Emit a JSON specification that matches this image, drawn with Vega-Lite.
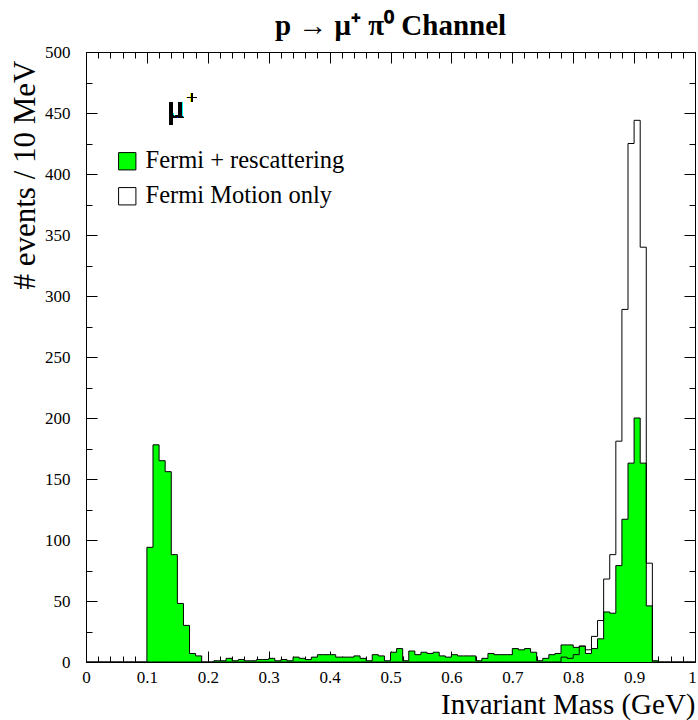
{
  "$schema": "https://vega.github.io/schema/vega-lite/v6.json",
  "width": 609,
  "height": 610,
  "autosize": {"type": "none"},
  "padding": {"left": 86, "top": 52, "right": 3, "bottom": 58},
  "background": "white",
  "title": {"text": "p → μ⁺ π⁰  Channel", "font": "Liberation Serif", "fontSize": 29, "fontWeight": "bold", "anchor": "middle", "offset": 2, "color": "black"},
  "config": {"view": {"stroke": "black", "strokeWidth": 1}},
  "data": {"values": [
    {"m":0.00,"g":0,"w":0},{"m":0.01,"g":0,"w":0},{"m":0.02,"g":0,"w":0},{"m":0.03,"g":0,"w":0},{"m":0.04,"g":0,"w":0},
    {"m":0.05,"g":0,"w":0},{"m":0.06,"g":0,"w":0},{"m":0.07,"g":0,"w":0},{"m":0.08,"g":0,"w":0},{"m":0.09,"g":0,"w":0},
    {"m":0.10,"g":94,"w":0},{"m":0.11,"g":178,"w":0},{"m":0.12,"g":165,"w":0},{"m":0.13,"g":156,"w":0},{"m":0.14,"g":88,"w":0},
    {"m":0.15,"g":48,"w":0},{"m":0.16,"g":30,"w":0},{"m":0.17,"g":7,"w":0},{"m":0.18,"g":5,"w":0},{"m":0.19,"g":0,"w":0},
    {"m":0.20,"g":0,"w":0},{"m":0.21,"g":1,"w":0},{"m":0.22,"g":1,"w":0},{"m":0.23,"g":3,"w":0},{"m":0.24,"g":1,"w":0},
    {"m":0.25,"g":2,"w":0},{"m":0.26,"g":1,"w":0},{"m":0.27,"g":1,"w":0},{"m":0.28,"g":2,"w":0},{"m":0.29,"g":2,"w":0},
    {"m":0.30,"g":3,"w":0},{"m":0.31,"g":1,"w":0},{"m":0.32,"g":2,"w":0},{"m":0.33,"g":1,"w":0},{"m":0.34,"g":4,"w":0},
    {"m":0.35,"g":3,"w":0},{"m":0.36,"g":2,"w":0},{"m":0.37,"g":4,"w":0},{"m":0.38,"g":6,"w":0},{"m":0.39,"g":6,"w":0},
    {"m":0.40,"g":6,"w":0},{"m":0.41,"g":4,"w":0},{"m":0.42,"g":4,"w":0},{"m":0.43,"g":4,"w":0},{"m":0.44,"g":5,"w":0},
    {"m":0.45,"g":3,"w":0},{"m":0.46,"g":1,"w":0},{"m":0.47,"g":6,"w":0},{"m":0.48,"g":5,"w":0},{"m":0.49,"g":1,"w":0},
    {"m":0.50,"g":8,"w":0},{"m":0.51,"g":11,"w":0},{"m":0.52,"g":1,"w":0},{"m":0.53,"g":9,"w":0},{"m":0.54,"g":6,"w":0},
    {"m":0.55,"g":8,"w":0},{"m":0.56,"g":7,"w":0},{"m":0.57,"g":8,"w":0},{"m":0.58,"g":5,"w":0},{"m":0.59,"g":4,"w":0},
    {"m":0.60,"g":6,"w":0},{"m":0.61,"g":5,"w":0},{"m":0.62,"g":5,"w":0},{"m":0.63,"g":5,"w":0},{"m":0.64,"g":1,"w":0},
    {"m":0.65,"g":3,"w":0},{"m":0.66,"g":7,"w":0},{"m":0.67,"g":6,"w":0},{"m":0.68,"g":6,"w":0},{"m":0.69,"g":6,"w":0},
    {"m":0.70,"g":11,"w":0},{"m":0.71,"g":10,"w":0},{"m":0.72,"g":11,"w":0},{"m":0.73,"g":8,"w":0},{"m":0.74,"g":1,"w":0},
    {"m":0.75,"g":3,"w":0},{"m":0.76,"g":6,"w":0},{"m":0.77,"g":7,"w":0},{"m":0.78,"g":14,"w":4},{"m":0.79,"g":14,"w":3},
    {"m":0.80,"g":12,"w":6},{"m":0.81,"g":13,"w":13},{"m":0.82,"g":7,"w":10},{"m":0.83,"g":11,"w":21},{"m":0.84,"g":19,"w":34},
    {"m":0.85,"g":41,"w":68},{"m":0.86,"g":40,"w":88},{"m":0.87,"g":79,"w":181},{"m":0.88,"g":117,"w":289},{"m":0.89,"g":163,"w":425},
    {"m":0.90,"g":200,"w":444},{"m":0.91,"g":163,"w":340},{"m":0.92,"g":46,"w":81},{"m":0.93,"g":1,"w":0},{"m":0.94,"g":0,"w":0},
    {"m":0.95,"g":0,"w":0},{"m":0.96,"g":0,"w":0},{"m":0.97,"g":0,"w":0},{"m":0.98,"g":0,"w":0},{"m":0.99,"g":0,"w":0},
    {"m":1.00,"g":0,"w":0}
  ]},
  "layer": [
    {
      "mark": {"type": "area", "interpolate": "step-after"},
      "encoding": {
        "x": {"field": "m", "type": "quantitative", "scale": {"domain": [0, 1], "nice": false, "zero": false},
          "axis": {"orient": "bottom", "values": [0,0.02,0.04,0.06,0.08,0.1,0.12,0.14,0.16,0.18,0.2,0.22,0.24,0.26,0.28,0.3,0.32,0.34,0.36,0.38,0.4,0.42,0.44,0.46,0.48,0.5,0.52,0.54,0.56,0.58,0.6,0.62,0.64,0.66,0.68,0.7,0.72,0.74,0.76,0.78,0.8,0.82,0.84,0.86,0.88,0.9,0.92,0.94,0.96,0.98,1],
            "labelExpr": "abs(datum.value*10 - round(datum.value*10)) < 0.000001 ? format(datum.value, '~g') : ''",
            "labelOffset": {"condition": {"test": "datum.value > 0.99", "value": -3}, "value": 0},
            "tickSize": {"condition": {"test": "abs(datum.value*10 - round(datum.value*10)) < 0.000001", "value": -11}, "value": -6},
            "tickColor": "black", "tickWidth": 1, "domain": false, "grid": false,
            "labelFont": "Liberation Serif", "labelFontSize": 17, "labelColor": "black", "labelPadding": 18, "labelOverlap": false, "labelFlush": false,
            "title": "Invariant Mass (GeV)", "titleFont": "Liberation Serif", "titleFontSize": 29, "titleFontWeight": "normal", "titleColor": "black",
            "titleAnchor": "end", "titleAlign": "right", "titleX": 609, "titleY": 51, "titleBaseline": "alphabetic"}},
        "y": {"field": "w", "type": "quantitative", "scale": {"domain": [0, 500], "nice": false},
          "axis": {"orient": "left", "values": [0,25,50,75,100,125,150,175,200,225,250,275,300,325,350,375,400,425,450,475,500],
            "labelExpr": "datum.value % 50 == 0 ? datum.label : ''",
            "tickSize": {"condition": {"test": "datum.value % 50 == 0", "value": -11}, "value": -6},
            "tickColor": "black", "tickWidth": 1, "domain": false, "grid": false,
            "labelFont": "Liberation Serif", "labelFontSize": 17, "labelColor": "black", "labelPadding": 27, "labelOverlap": false, "labelFlush": false,
            "title": "# events / 10 MeV", "titleFont": "Liberation Serif", "titleFontSize": 31, "titleFontWeight": "normal", "titleColor": "black",
            "titleAnchor": "end", "titleAngle": -90, "titleAlign": "right", "titleX": -61, "titleY": 8, "titleBaseline": "middle"}},
        "fill": {"datum": "Fermi Motion only", "type": "nominal",
          "scale": {"domain": ["Fermi + rescattering", "Fermi Motion only"], "range": ["#00ff00", "#ffffff"]},
          "legend": {"orient": "none", "legendX": 29, "legendY": 97, "title": null, "symbolType": "square", "symbolSize": 300,
            "symbolStrokeColor": "black", "symbolStrokeWidth": 1, "symbolOpacity": 1, "labelFont": "Liberation Serif", "labelFontSize": 24.5,
            "labelColor": "black", "labelLimit": 0, "rowPadding": 10, "labelOffset": 6, "padding": 0}}
      }
    },
    {
      "mark": {"type": "area", "interpolate": "step-after"},
      "encoding": {
        "x": {"field": "m", "type": "quantitative", "scale": {"domain": [0, 1], "nice": false, "zero": false},
          "axis": {"orient": "top", "values": [0,0.02,0.04,0.06,0.08,0.1,0.12,0.14,0.16,0.18,0.2,0.22,0.24,0.26,0.28,0.3,0.32,0.34,0.36,0.38,0.4,0.42,0.44,0.46,0.48,0.5,0.52,0.54,0.56,0.58,0.6,0.62,0.64,0.66,0.68,0.7,0.72,0.74,0.76,0.78,0.8,0.82,0.84,0.86,0.88,0.9,0.92,0.94,0.96,0.98,1],
            "labels": false,
            "tickSize": {"condition": {"test": "abs(datum.value*10 - round(datum.value*10)) < 0.000001", "value": -11}, "value": -6},
            "tickColor": "black", "tickWidth": 1, "domain": false, "grid": false, "title": null}},
        "y": {"field": "g", "type": "quantitative", "scale": {"domain": [0, 500], "nice": false},
          "axis": {"orient": "right", "values": [0,25,50,75,100,125,150,175,200,225,250,275,300,325,350,375,400,425,450,475,500],
            "labels": false,
            "tickSize": {"condition": {"test": "datum.value % 50 == 0", "value": -11}, "value": -6},
            "tickColor": "black", "tickWidth": 1, "domain": false, "grid": false, "title": null}},
        "fill": {"datum": "Fermi + rescattering", "type": "nominal"}
      }
    },
    {
      "mark": {"type": "line", "interpolate": "step-after", "color": "black", "strokeWidth": 1},
      "encoding": {
        "x": {"field": "m", "type": "quantitative", "axis": null},
        "y": {"field": "g", "type": "quantitative", "axis": null}
      }
    },
    {
      "mark": {"type": "line", "interpolate": "step-after", "color": "black", "strokeWidth": 1},
      "encoding": {
        "x": {"field": "m", "type": "quantitative", "axis": null},
        "y": {"field": "w", "type": "quantitative", "axis": null}
      }
    },
    {
      "mark": {"type": "text", "text": "μ", "font": "Liberation Serif", "fontSize": 33, "fontWeight": "normal", "align": "left", "baseline": "alphabetic", "color": "black"},
      "encoding": {
        "x": {"datum": 0.133, "type": "quantitative", "axis": null},
        "y": {"datum": 446, "type": "quantitative", "axis": null}
      }
    },
    {
      "mark": {"type": "text", "text": "+", "font": "Liberation Serif", "fontSize": 19, "fontWeight": "normal", "align": "left", "baseline": "middle", "color": "black"},
      "encoding": {
        "x": {"datum": 0.165, "type": "quantitative", "axis": null},
        "y": {"datum": 462, "type": "quantitative", "axis": null}
      }
    }
  ],
  "resolve": {"axis": {"x": "independent", "y": "independent"}}
}
